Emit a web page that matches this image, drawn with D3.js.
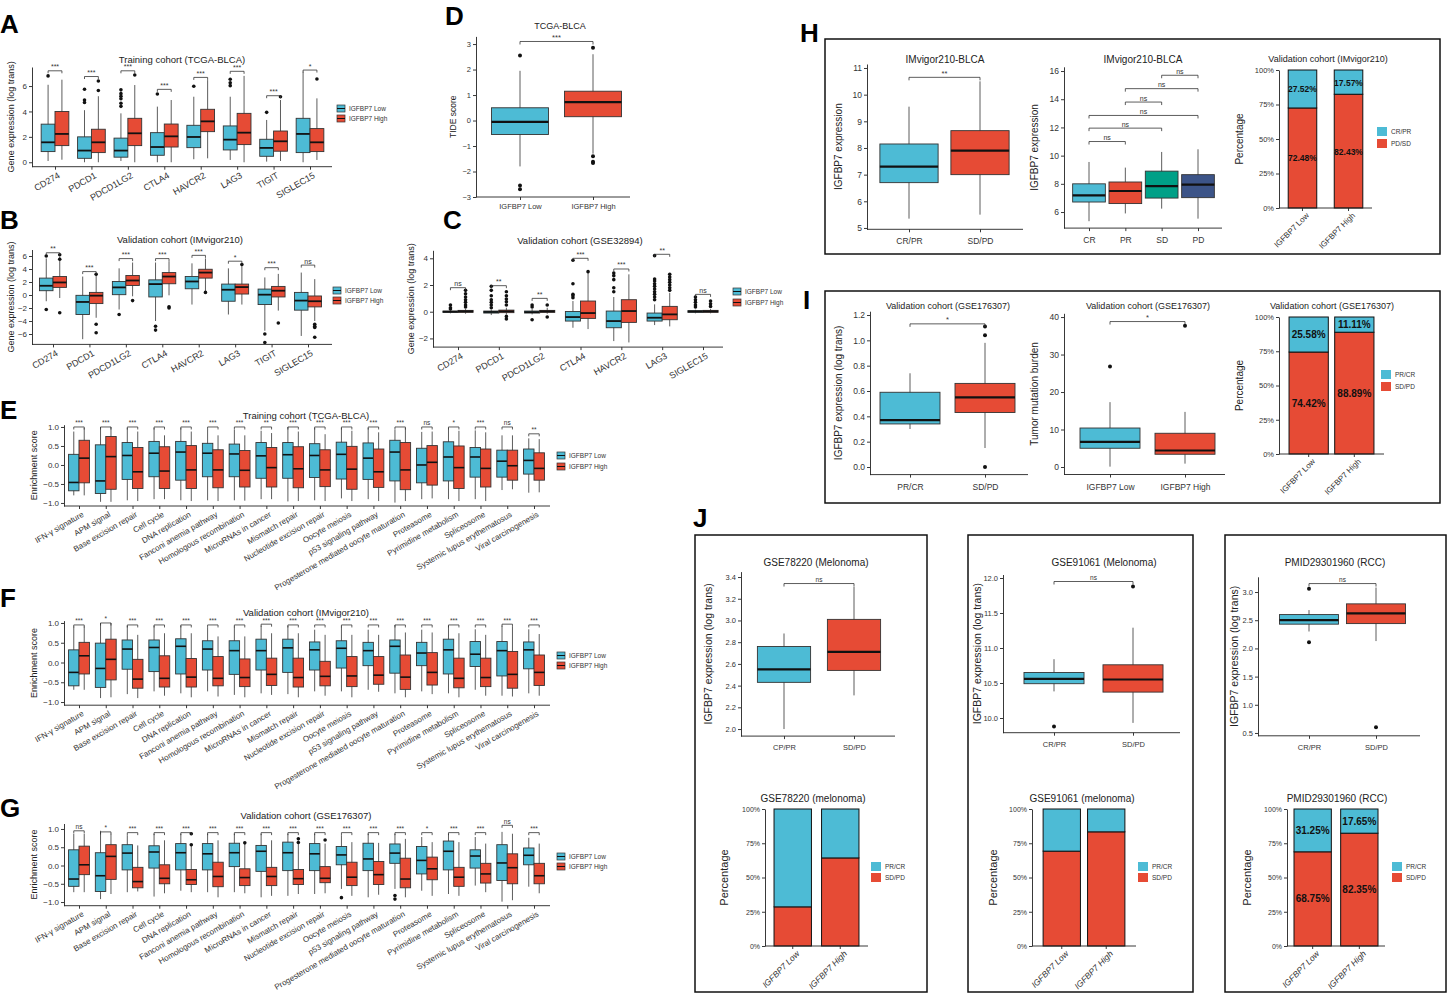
<!DOCTYPE html>
<html><head><meta charset="utf-8">
<script src="https://cdn.jsdelivr.net/npm/d3@7"></script>
<style>body{margin:0;background:#fff}</style>
</head><body>
<script>
// ================= DATA =================
const groupLabels = ["IGFBP7 Low", "IGFBP7 High"];
const checkpointGenes = ["CD274","PDCD1","PDCD1LG2","CTLA4","HAVCR2","LAG3","TIGIT","SIGLEC15"];
const gse32894Genes = ["CD274","PDCD1","PDCD1LG2","CTLA4","HAVCR2","LAG3","SIGLEC15"];
const pathways = ["IFN-γ signature","APM signal","Base excision repair","Cell cycle","DNA replication","Fanconi anemia pathway","Homologous recombination","MicroRNAs in cancer","Mismatch repair","Nucleotide excision repair","Oocyte meiosis","p53 signaling pathway","Progesterone mediated oocyte maturation","Proteasome","Pyrimidine metabolism","Spliceosome","Systemic lupus erythematosus","Viral carcinogenesis"];
// box stats: [lower whisker, Q1, median, Q3, upper whisker]
// A: TCGA-BLCA checkpoint genes
const tcgaLow = [[0.1,0.84,1.57,3.0,6.1],[0,0.31,0.92,2.0,4.1],[0.1,0.4,0.92,1.9,3.85],[0,0.55,1.2,2.33,4.38],[0.24,1.15,1.99,2.91,5.16],[0.18,0.97,1.78,2.86,5.16],[0.05,0.47,1.13,1.81,3.33],[0,0.76,2.23,3.46,7.13]];
const tcgaLowOut = [[6.8],[5.75,4.9,4.7],[5.7,5.4,5.2,5.0,4.65,4.4],[5.37],[5.98],[6.53,6.26,6.03],[3.93],[]];
const tcgaHigh = [[0.2,1.31,2.23,4.0,6.5],[0,0.76,1.57,2.6,5.2],[0,1.31,2.28,3.46,6.08],[0,1.2,2.04,3.01,4.9],[0.31,2.41,3.22,4.17,6.47],[0,1.39,2.33,3.85,6.8],[0.1,0.87,1.65,2.46,4.9],[0.18,0.84,1.57,2.65,5.03]];
const tcgaHighOut = [[],[6.4,5.65],[6.87],[],[],[],[5.16],[6.55]];
const tcgaSig = ["***","***","***","***","***","***","***","*"];
const tcgaSigY = [7.2,6.75,7.2,5.74,6.68,7.16,5.24,7.26];
// B: IMvigor210 checkpoint genes
const imvLow = [[-0.96,0.66,1.42,2.6,5.63],[-6.8,-3.0,-1.07,-0.05,2.84],[-2.23,0.05,1.17,2.08,4.1],[-4.0,-0.3,1.68,2.33,5.0],[-1.47,0.96,2.08,2.84,4.87],[-3.0,-0.96,0.81,1.68,4.1],[-5.5,-1.47,0.05,0.91,2.7],[-6.3,-2.33,-0.86,0.4,3.45]];
const imvLowOut = [[6.0,-2.23],[],[-3.0],[-4.8,-5.4],[],[],[-6.0,-7.3],[]];
const imvHigh = [[-0.46,1.17,1.93,2.84,5.9],[-3.5,-1.32,-0.1,0.4,3.1],[-0.2,1.47,2.23,3.0,5.0],[-0.05,1.73,2.84,3.45,5.2],[0.56,2.6,3.45,3.96,5.63],[-1.47,0.15,1.22,1.68,4.5],[-2.4,-0.3,0.66,1.32,3.25],[-4.0,-1.83,-0.96,-0.15,2.44]];
const imvHighOut = [[6.2,5.5,-2.74],[3.2,-4.5,-5.8],[-0.86],[-1.8,-2.0],[0.4],[4.7],[-4.3],[-4.5,-4.8,-5.0,-6.5]];
const imvSig = ["**","***","***","***","***","*","***","ns"];
const imvSigY = [6.5,3.6,5.6,5.6,6.1,5.2,4.2,4.6];
// C: GSE32894 checkpoint genes
const gseLow = [[-0.12,-0.05,0,0.05,0.1],[-0.25,-0.1,-0.02,0.05,0.15],[-0.2,-0.1,-0.03,0.05,0.2],[-1.2,-0.7,-0.4,0.02,0.8],[-2.2,-1.2,-0.7,0.05,1.1],[-1.0,-0.7,-0.45,-0.1,0.55],[-0.12,-0.05,0.02,0.08,0.15]];
const gseLowOut = [[0.5,0.3,0.2],[1.9,1.6,1.2,0.9,0.7,0.5,0.3],[0.5,0.35,-0.6],[3.85,2.1,1.3,1.2,1.05],[2.9,2.7,2.4,1.8,1.5],[4.2,2.45,2.3,2.1,1.9,1.7,1.5,1.3,1.1,0.9],[1.1,0.9,0.7,0.5,0.35]];
const gseHigh = [[-0.15,-0.05,0.03,0.1,0.2],[-0.2,-0.07,0.03,0.12,0.3],[-0.15,-0.05,0.03,0.1,0.3],[-1.3,-0.5,-0.1,0.8,2.95],[-2.3,-0.8,0.05,0.9,2.8],[-1.1,-0.6,-0.2,0.4,1.4],[-0.12,-0.05,0.03,0.1,0.2]];
const gseHighOut = [[1.6,1.35,1.1,0.9,0.7,0.5,0.35],[1.5,1.2,0.95,0.75,0.5,-0.35,-0.55],[0.5,-0.4],[3.0],[],[2.8,2.6,2.4,2.2,2.0,1.8,1.6],[0.8,0.6,0.4]];
const gseSig = ["ns","**","**","***","***","**","ns"];
const gseSigY = [1.8,1.95,1.0,4.0,3.2,4.3,1.3];
// D: TIDE
const tideStats = [[-1.8,-0.55,-0.05,0.5,1.95],[-1.3,0.15,0.72,1.15,2.6]];
const tideOut = [[2.55,-2.55,-2.7],[2.85,-1.4,-1.62,-1.67]];
// E: enrichment TCGA
const enrTcgaLow = [[-0.8,-0.68,-0.46,0.28,0.88],[-0.97,-0.75,-0.42,0.53,1.0],[-0.93,-0.38,0.25,0.59,0.97],[-0.9,-0.31,0.31,0.62,0.97],[-0.93,-0.4,0.34,0.62,0.97],[-0.93,-0.31,0.31,0.57,0.94],[-0.93,-0.31,0.29,0.55,0.93],[-0.9,-0.35,0.24,0.59,0.9],[-0.96,-0.35,0.27,0.59,1.0],[-0.93,-0.33,0.25,0.56,0.97],[-0.88,-0.37,0.28,0.6,0.97],[-0.9,-0.38,0.18,0.58,0.97],[-0.99,-0.42,0.34,0.65,0.93],[-0.9,-0.47,0.0,0.44,0.87],[-0.9,-0.42,0.21,0.61,0.97],[-0.9,-0.32,0.21,0.46,0.91],[-0.66,-0.32,0.1,0.39,0.78],[-0.73,-0.24,0.12,0.42,0.7]];
const enrTcgaHigh = [[-0.8,-0.47,0.18,0.65,0.97],[-0.97,-0.64,0.22,0.75,1.0],[-0.95,-0.62,-0.18,0.46,0.88],[-0.9,-0.62,-0.16,0.48,0.78],[-0.95,-0.62,-0.13,0.51,0.88],[-0.95,-0.6,-0.13,0.4,0.78],[-0.94,-0.58,-0.14,0.38,0.78],[-0.9,-0.58,-0.07,0.46,0.84],[-0.95,-0.6,-0.1,0.48,0.88],[-0.95,-0.57,-0.13,0.4,0.81],[-0.95,-0.64,-0.11,0.49,0.9],[-0.95,-0.59,-0.18,0.42,0.86],[-0.95,-0.65,-0.13,0.59,0.97],[-0.88,-0.53,0.07,0.51,0.88],[-0.95,-0.62,-0.07,0.5,0.9],[-0.95,-0.58,-0.09,0.42,0.86],[-0.64,-0.4,-0.02,0.39,0.78],[-0.72,-0.4,-0.09,0.32,0.68]];
const enrTcgaSig = ["***","***","***","***","***","***","***","**","***","***","***","***","***","ns","*","***","ns","**"];
const enrTcgaSigY = [1.0,1.0,1.0,1.0,1.0,1.0,1.0,1.0,1.0,1.0,1.0,1.0,1.0,1.0,1.0,1.0,1.0,0.82];
// F: enrichment IMvigor210
const enrImvLow = [[-0.69,-0.59,-0.25,0.32,0.91],[-0.9,-0.63,-0.15,0.49,1.0],[-0.8,-0.17,0.34,0.57,0.93],[-0.73,-0.23,0.38,0.57,0.93],[-0.78,-0.29,0.41,0.6,0.93],[-0.73,-0.19,0.34,0.55,0.89],[-0.82,-0.3,0.3,0.55,0.91],[-0.78,-0.19,0.3,0.59,0.93],[-0.8,-0.25,0.37,0.59,0.93],[-0.73,-0.19,0.32,0.52,0.83],[-0.73,-0.14,0.36,0.55,0.91],[-0.69,-0.08,0.3,0.51,0.83],[-0.78,-0.27,0.41,0.57,0.95],[-0.73,-0.08,0.24,0.51,0.83],[-0.78,-0.29,0.32,0.59,0.93],[-0.69,-0.1,0.21,0.53,0.84],[-0.84,-0.34,0.3,0.53,0.93],[-0.78,-0.16,0.32,0.52,0.84]];
const enrImvHigh = [[-0.69,-0.29,0.17,0.51,0.91],[-0.88,-0.44,0.08,0.59,1.0],[-0.9,-0.65,-0.42,0.08,0.7],[-0.84,-0.62,-0.4,0.17,0.74],[-0.88,-0.62,-0.37,0.1,0.74],[-0.86,-0.59,-0.4,0.15,0.66],[-0.88,-0.61,-0.38,0.09,0.66],[-0.82,-0.58,-0.3,0.11,0.74],[-0.88,-0.62,-0.38,0.11,0.74],[-0.84,-0.59,-0.35,0.03,0.7],[-0.88,-0.61,-0.34,0.15,0.7],[-0.74,-0.55,-0.32,0.15,0.7],[-0.88,-0.68,-0.37,0.19,0.76],[-0.8,-0.57,-0.25,0.25,0.76],[-0.88,-0.64,-0.4,0.11,0.74],[-0.84,-0.61,-0.38,0.11,0.7],[-0.86,-0.65,-0.3,0.28,0.91],[-0.84,-0.58,-0.25,0.19,0.72]];
const enrImvSig = ["***","*","***","***","***","***","***","***","***","***","***","***","***","***","***","***","***","***"];
const enrImvSigY = [0.95,1.0,0.95,0.95,0.95,0.95,0.95,0.97,0.95,0.95,0.95,0.95,0.95,0.95,0.95,0.95,0.97,0.95];
// G: enrichment GSE176307
const enrGseLow = [[-0.73,-0.57,-0.37,0.43,0.87],[-0.92,-0.71,-0.28,0.35,0.95],[-0.73,-0.12,0.34,0.57,0.83],[-0.85,-0.07,0.37,0.54,0.87],[-0.69,-0.12,0.35,0.6,0.87],[-0.73,-0.12,0.32,0.6,0.87],[-0.73,-0.03,0.35,0.61,0.87],[-0.87,-0.16,0.39,0.55,0.87],[-0.83,-0.14,0.35,0.64,0.87],[-0.78,-0.14,0.32,0.6,0.87],[-0.64,0.02,0.29,0.52,0.83],[-0.87,-0.14,0.18,0.61,0.87],[-0.64,0.06,0.34,0.59,0.87],[-0.69,-0.23,0.14,0.52,0.78],[-0.78,-0.12,0.39,0.67,0.87],[-0.55,-0.07,0.26,0.43,0.78],[-0.99,-0.41,0.07,0.57,0.92],[-0.58,0.02,0.28,0.48,0.76]];
const enrGseLowOut = [[],[],[],[],[],[],[],[],[],[],[-0.88],[],[-0.82,-0.92],[],[],[],[],[]];
const enrGseHigh = [[-0.73,-0.25,0.02,0.53,0.87],[-0.78,-0.38,0.25,0.57,0.87],[-0.71,-0.61,-0.44,-0.05,0.55],[-0.76,-0.5,-0.35,0.02,0.69],[-0.73,-0.52,-0.39,-0.11,0.55],[-0.87,-0.58,-0.3,0.09,0.69],[-0.76,-0.55,-0.33,-0.09,0.6],[-0.83,-0.55,-0.3,-0.05,0.69],[-0.78,-0.52,-0.36,-0.11,0.6],[-0.76,-0.47,-0.35,-0.03,0.6],[-0.83,-0.55,-0.32,0.09,0.64],[-0.8,-0.52,-0.25,0.11,0.62],[-0.87,-0.61,-0.37,0.2,0.73],[-0.83,-0.39,-0.09,0.23,0.64],[-0.83,-0.57,-0.32,-0.05,0.64],[-0.73,-0.48,-0.23,0.06,0.6],[-0.95,-0.5,-0.06,0.32,0.87],[-0.76,-0.5,-0.28,0.06,0.6]];
const enrGseHighOut = [[],[],[],[],[0.87,0.57],[],[0.62],[],[0.73,0.63],[0.7],[],[],[],[],[],[],[],[]];
const enrGseSig = ["ns","*","***","***","***","***","***","***","***","***","***","***","***","*","***","***","ns","***"];
const enrGseSigY = [0.95,0.92,0.9,0.9,0.9,0.9,0.9,0.9,0.9,0.9,0.9,0.9,0.9,0.9,0.9,0.9,1.1,0.9];
// H
const respCats = ["CR/PR","SD/PD"];
const respImvStats = [[5.35,6.7,7.3,8.15,9.55],[5.5,7.0,7.9,8.65,10.5]];
const recistCats = ["CR","PR","SD","PD"];
const recistStats = [[5.35,6.71,7.18,8.0,9.55],[5.9,6.6,7.49,8.13,9.15],[6.24,6.99,7.84,8.9,10.26],[5.53,7.02,7.94,8.65,10.45]];
const recistBrackets = [["CR","PR",11.0],["CR","SD",11.95],["CR","PD",12.85],["PR","SD",13.8],["PR","PD",14.75],["SD","PD",15.7]];
const imvRespPct = [27.52, 17.57];
const imvNonRespPct = [72.48, 82.43];
// I
const respCatsI = ["PR/CR","SD/PD"];
const gse176Stats = [[0.3,0.34,0.37,0.59,0.74],[0.15,0.43,0.55,0.66,0.98]];
const gse176Out = [[],[1.11,1.04,0.0]];
const tmbStats = [[0.1,5.0,6.7,10.4,17.3],[0.9,3.4,4.4,9.0,14.7]];
const tmbOut = [[26.8],[37.7]];
const gse176RespPct = [25.58, 11.11];
const gse176NonRespPct = [74.42, 88.89];
// J
const gse78Cats = ["CP/PR","SD/PD"];
const gse78Stats = [[2.0,2.43,2.55,2.76,2.88],[2.31,2.54,2.71,3.01,3.31]];
const gse91Cats = ["CR/PR","SD/PD"];
const gse91Stats = [[10.38,10.49,10.56,10.65,10.84],[9.93,10.37,10.55,10.76,11.29]];
const gse91Out = [[9.88],[11.88]];
const rccStats = [[2.3,2.43,2.5,2.6,2.68],[2.13,2.44,2.62,2.79,3.08]];
const rccOut = [[3.06,2.11],[0.6]];
const gse78NonRespPct = [28.57, 64.29];
const gse91NonRespPct = [69.23, 83.33];
const rccNonRespPct = [68.75, 82.35];

// ================= DRAWING =================
const FONT = '"Liberation Sans", Arial, Helvetica, sans-serif';
const NARROW = '"Liberation Sans Narrow","Arial Narrow","Liberation Sans",sans-serif';
const CY = "#4DBBD5", RD = "#E64B35", GN = "#00A087", NB = "#3C5488";
const svg = d3.select("body").append("svg").attr("width",1450).attr("height",995)
  .style("font-family",FONT);

function styleAxis(a, fs){
  a.attr("font-family",FONT).attr("font-size",fs);
  a.selectAll(".domain").attr("stroke","#222").attr("stroke-width",0.9);
  a.selectAll(".tick line").attr("stroke","#222").attr("stroke-width",0.9);
  a.selectAll(".tick text").attr("fill","#333");
}
function yAxis(g, y, x, ticks, fmt, fs){
  const a = g.append("g").attr("transform",`translate(${x},0)`)
    .call(d3.axisLeft(y).tickValues(ticks).tickFormat(fmt).tickSize(3).tickSizeOuter(0).tickPadding(2));
  styleAxis(a, fs); return a;
}
function xAxis(g, x, yb, x0, x1, fs, angle, pad){
  g.append("line").attr("x1",x0).attr("x2",x1).attr("y1",yb).attr("y2",yb).attr("stroke","#222").attr("stroke-width",0.9);
  const a = g.append("g").attr("transform",`translate(0,${yb})`)
    .call(d3.axisBottom(x).tickSize(3).tickPadding(pad || 3));
  a.select(".domain").remove();
  styleAxis(a, fs);
  if (angle){
    a.selectAll(".tick text").attr("y",0).attr("dy","0.71em").attr("text-anchor","end")
      .attr("transform",`translate(2,5) rotate(${-angle})`);
  }
  return a;
}
function txt(g, x, y, s, fs, opt){
  opt = opt || {};
  const t = g.append("text").attr("x",x).attr("y",y).text(s).attr("font-size",fs)
    .attr("text-anchor",opt.anchor || "middle").attr("fill",opt.fill || "#222");
  if (opt.bold) t.attr("font-weight","bold");
  if (opt.family) t.attr("font-family",opt.family);
  if (opt.rot) t.attr("transform",`rotate(${opt.rot},${x},${y})`);
  return t;
}
function ylab(g, x, yc, s, fs){ return txt(g, x, yc, s, fs, {rot:-90}); }
function drawBox(g, cx, bw, st, y, col, medW){
  const [lo,q1,md,q3,hi] = st;
  g.append("line").attr("x1",cx).attr("x2",cx).attr("y1",y(lo)).attr("y2",y(hi)).attr("stroke","#333").attr("stroke-width",0.8);
  g.append("rect").attr("x",cx-bw/2).attr("width",bw).attr("y",y(q3)).attr("height",Math.max(1,y(q1)-y(q3)))
    .attr("fill",col).attr("stroke","#333").attr("stroke-width",0.9);
  g.append("line").attr("x1",cx-bw/2).attr("x2",cx+bw/2).attr("y1",y(md)).attr("y2",y(md)).attr("stroke","#111").attr("stroke-width",medW||1.8);
}
function dots(g, cx, vals, y, r){
  (vals||[]).forEach(v => g.append("circle").attr("cx",cx).attr("cy",y(v)).attr("r",r||1.8).attr("fill","#111"));
}
function bracket(g, xa, xb, yv, label, fs, tick){
  tick = tick===undefined ? 3 : tick;
  g.append("path").attr("d",`M${xa},${yv+tick}V${yv}H${xb}V${yv+tick}`).attr("fill","none").attr("stroke","#333").attr("stroke-width",0.8);
  txt(g, (xa+xb)/2, yv-1.5, label, fs, {fill:"#333"});
}
function boxLegend(g, x, y, gap, fs){
  [CY, RD].forEach((c,i)=>{
    const yy = y + i*gap;
    g.append("rect").attr("x",x).attr("y",yy).attr("width",8).attr("height",7).attr("fill",c).attr("stroke","#333").attr("stroke-width",0.7);
    g.append("line").attr("x1",x).attr("x2",x+8).attr("y1",yy+3.5).attr("y2",yy+3.5).attr("stroke","#111").attr("stroke-width",1);
    txt(g, x+12, yy+6, groupLabels[i], fs, {anchor:"start", fill:"#333"});
  });
}

function groupedBox(o){
  const g = svg.append("g");
  const x = d3.scalePoint().domain(o.cats).range([o.c0, o.c1]);
  const y = d3.scaleLinear().domain(o.domain).range([o.yb, o.yt]);
  const bw = x.step()*o.bwFrac;
  const series = [{st:o.low,out:o.lowOut,col:CY,off:-bw/2},{st:o.high,out:o.highOut,col:RD,off:bw/2}];
  series.forEach(s => o.cats.forEach((c,i) => {
    drawBox(g, x(c)+s.off, bw, s.st[i], y, s.col, o.medW);
    dots(g, x(c)+s.off, s.out[i], y, o.r);
  }));
  o.cats.forEach((c,i) => bracket(g, x(c)-bw/2, x(c)+bw/2, y(o.sigY[i]), o.sig[i], o.sigFs || 7, 2.5));
  yAxis(g, y, o.x0, o.ticks, o.fmt, o.tickFs);
  xAxis(g, x, o.yb, o.x0, o.x1, o.catFs, o.angle);
  txt(g, o.tx, o.ty, o.title, o.titleFs || 9.5);
  ylab(g, o.ylx, (o.yb+o.yt)/2, o.ylab, o.ylabFs || 9);
  boxLegend(g, o.legX, o.legY, o.legGap, o.legFs || 6.5);
}

function simpleBox(o){
  const g = svg.append("g");
  const x = d3.scalePoint().domain(o.cats).range([o.c0, o.c1]);
  const y = d3.scaleLinear().domain(o.domain).range([o.yb, o.yt]);
  const bw = (o.c1-o.c0)/(o.cats.length-1)*o.bwFrac;
  o.cats.forEach((c,i) => {
    drawBox(g, x(c), bw, o.stats[i], y, o.colors[i], 2.2);
    dots(g, x(c), o.outs ? o.outs[i] : [], y, 2);
  });
  o.brackets.forEach(b => bracket(g, x(b[0]), x(b[1]), y(b[2]), b[3], o.sigFs || 7.5, 3));
  yAxis(g, y, o.x0, o.ticks, o.fmt, o.tickFs);
  xAxis(g, x, o.yb, o.x0, o.x1, o.catFs, 0, o.pad || 4);
  txt(g, o.tx, o.ty, o.title, o.titleFs || 9.5);
  ylab(g, o.ylx, (o.yb+o.yt)/2, o.ylab, o.ylabFs || 9.5);
}

function stackBar(o){
  const g = svg.append("g");
  const x = d3.scaleBand().domain(groupLabels).range([o.x0, o.x1]).paddingInner(o.pi).paddingOuter(o.po);
  const y = d3.scaleLinear().domain([0,100]).range([o.yb, o.yt]);
  groupLabels.forEach((grp,i) => {
    const segs = [{a:0, b:o.non[i], c:RD}, {a:o.non[i], b:100, c:CY}];
    segs.forEach(s => {
      g.append("rect").attr("x",x(grp)).attr("width",x.bandwidth()).attr("y",y(s.b)).attr("height",y(s.a)-y(s.b))
        .attr("fill",s.c).attr("stroke","#111").attr("stroke-width",1);
      if (o.labels){
        const v = s.b - s.a;
        txt(g, x(grp)+x.bandwidth()/2, y((s.a+s.b)/2)+3.5, v.toFixed(2)+"%", o.lfs || 10, {bold:true, family:NARROW, fill:"#111"});
      }
    });
  });
  yAxis(g, y, o.x0, [0,25,50,75,100], d => d+"%", o.tickFs || 7.5);
  const a = xAxis(g, x, o.yb, o.x0, o.x1, o.catFs || 8, 0);
  a.selectAll(".tick text").attr("y",0).attr("dy","0.71em").attr("text-anchor","end")
    .attr("transform","translate(3,4) rotate(-45)");
  if (o.italic) a.selectAll(".tick text").attr("font-style","italic");
  [CY, RD].forEach((c,i) => {
    const yy = o.legY + i*o.legGap;
    g.append("rect").attr("x",o.legX).attr("y",yy).attr("width",10).attr("height",9).attr("fill",c);
    txt(g, o.legX+14, yy+7, o.legend[i], o.legFs || 6.5, {anchor:"start", fill:"#333"});
  });
  txt(g, o.tx, o.ty, o.title, o.titleFs || 9);
  ylab(g, o.ylx, (o.yb+o.yt)/2, "Percentage", o.ylabFs || 10);
}

// panel letters
[["A",0,33],["B",0,229],["C",443,229],["D",445,25],["E",0,419],["F",0,607],["G",0,817],["H",800,42],["I",803,309],["J",693,527]]
  .forEach(d => txt(svg, d[1], d[2], d[0], 26, {anchor:"start", bold:true, fill:"#000"}));

// frames
[[825,39,615,215],[825,291,615,212],[695,535,232,457],[968,535,225,457],[1225,535,221,457]]
  .forEach(r => svg.append("rect").attr("x",r[0]).attr("y",r[1]).attr("width",r[2]).attr("height",r[3])
    .attr("fill","none").attr("stroke","#111").attr("stroke-width",1.5));

// A
groupedBox({cats:checkpointGenes, low:tcgaLow, high:tcgaHigh, lowOut:tcgaLowOut, highOut:tcgaHighOut, sig:tcgaSig, sigY:tcgaSigY,
  c0:55, c1:310, x0:32, x1:332, yb:166.7, yt:67, domain:[-0.35,7.5], ticks:[0,2,4,6], fmt:d3.format("d"),
  bwFrac:0.38, tickFs:8, catFs:9, angle:30, title:"Training cohort (TCGA-BLCA)", tx:182, ty:63,
  ylab:"Gene expression (log trans)", ylx:14, legX:337, legY:105, legGap:10});
// B
groupedBox({cats:checkpointGenes, low:imvLow, high:imvHigh, lowOut:imvLowOut, highOut:imvHighOut, sig:imvSig, sigY:imvSigY,
  c0:53, c1:308, x0:32, x1:332, yb:344.4, yt:249.5, domain:[-7.6,7.0], ticks:[-6,-4,-2,0,2,4,6], fmt:d3.format("d"),
  bwFrac:0.37, tickFs:8, catFs:9, angle:30, title:"Validation cohort (IMvigor210)", tx:180, ty:243,
  ylab:"Gene expression (log trans)", ylx:14, legX:333, legY:287, legGap:10});
// C
groupedBox({cats:gse32894Genes, low:gseLow, high:gseHigh, lowOut:gseLowOut, highOut:gseHighOut, sig:gseSig, sigY:gseSigY,
  c0:458, c1:703, x0:433, x1:723, yb:347.1, yt:250.3, domain:[-2.65,4.6], ticks:[-2,0,2,4], fmt:d3.format("d"),
  bwFrac:0.37, tickFs:8, catFs:9, angle:30, title:"Validation cohort (GSE32894)", tx:580, ty:244,
  ylab:"Gene expression (log trans)", ylx:414, legX:733, legY:288, legGap:11});
// D
simpleBox({cats:groupLabels, stats:tideStats, outs:tideOut, colors:[CY,RD], c0:520, c1:593, x0:476, x1:630,
  yb:197, yt:36.4, domain:[-3,3.3], ticks:[-3,-2,-1,0,1,2,3], fmt:d3.format("d"), bwFrac:0.78,
  brackets:[[groupLabels[0],groupLabels[1],3.1,"***"]], tickFs:7.5, catFs:7.5, title:"TCGA-BLCA", tx:560, ty:29, titleFs:9,
  ylab:"TIDE score", ylx:456, ylabFs:8.5});
// E
groupedBox({cats:pathways, low:enrTcgaLow, high:enrTcgaHigh, lowOut:pathways.map(()=>[]), highOut:pathways.map(()=>[]), sig:enrTcgaSig, sigY:enrTcgaSigY,
  c0:79, c1:534, x0:64, x1:550, yb:506, yt:424.7, domain:[-1.08,1.06], ticks:[-1,-0.5,0,0.5,1], fmt:d3.format(".1f"),
  bwFrac:0.39, tickFs:8, catFs:8, angle:30, title:"Training cohort (TCGA-BLCA)", tx:306, ty:419, sigFs:6.5, medW:1.6,
  ylab:"Enrichment score", ylx:37, legX:557, legY:452, legGap:11});
// F
groupedBox({cats:pathways, low:enrImvLow, high:enrImvHigh, lowOut:pathways.map(()=>[]), highOut:pathways.map(()=>[]), sig:enrImvSig, sigY:enrImvSigY,
  c0:79, c1:534, x0:64, x1:550, yb:705.2, yt:620.6, domain:[-1.08,1.06], ticks:[-1,-0.5,0,0.5,1], fmt:d3.format(".1f"),
  bwFrac:0.39, tickFs:8, catFs:8, angle:30, title:"Validation cohort (IMvigor210)", tx:306, ty:616, sigFs:6.5, medW:1.6,
  ylab:"Enrichment score", ylx:37, legX:557, legY:652, legGap:10});
// G
groupedBox({cats:pathways, low:enrGseLow, high:enrGseHigh, lowOut:enrGseLowOut, highOut:enrGseHighOut, sig:enrGseSig, sigY:enrGseSigY,
  c0:79, c1:534, x0:64, x1:550, yb:905.7, yt:823.5, domain:[-1.1,1.15], ticks:[-1,-0.5,0,0.5,1], fmt:d3.format(".1f"),
  bwFrac:0.39, tickFs:8, catFs:8, angle:30, title:"Validation cohort (GSE176307)", tx:306, ty:819, sigFs:6.5, medW:1.6,
  ylab:"Enrichment score", ylx:37, legX:557, legY:853, legGap:10});

// H
simpleBox({cats:respCats, stats:respImvStats, colors:[CY,RD], c0:909, c1:980, x0:867, x1:1023,
  yb:229.3, yt:64, domain:[4.95,11.15], ticks:[5,6,7,8,9,10,11], fmt:d3.format("d"), bwFrac:0.82,
  brackets:[[respCats[0],respCats[1],10.65,"**"]], tickFs:8.5, catFs:8.5, title:"IMvigor210-BLCA", tx:945, ty:63, titleFs:10,
  ylab:"IGFBP7 expression", ylx:842, ylabFs:10, pad:6});
simpleBox({cats:recistCats, stats:recistStats, colors:[CY,RD,GN,NB], c0:1089, c1:1198, x0:1064, x1:1222,
  yb:228.1, yt:66.8, domain:[4.86,16.3], ticks:[6,8,10,12,14,16], fmt:d3.format("d"), bwFrac:0.9,
  brackets:recistBrackets.map(b => [b[0],b[1],b[2],"ns"]), tickFs:8.5, catFs:8.5, title:"IMvigor210-BLCA", tx:1143, ty:63, titleFs:10,
  ylab:"IGFBP7 expression", ylx:1038, ylabFs:10, pad:6, sigFs:7});
stackBar({non:imvNonRespPct, x0:1279, x1:1372, pi:0.38, po:0.2, yb:208, yt:70, labels:true, lfs:8.5,
  legend:["CR/PR","PD/SD"], legX:1377, legY:127, legGap:12, title:"Validation cohort (IMvigor210)", tx:1328, ty:62,
  ylx:1243, catFs:8});

// I
simpleBox({cats:respCatsI, stats:gse176Stats, outs:gse176Out, colors:[CY,RD], c0:910, c1:985, x0:870, x1:1028,
  yb:474.6, yt:311.2, domain:[-0.06,1.23], ticks:[0,0.2,0.4,0.6,0.8,1.0,1.2], fmt:d3.format(".1f"), bwFrac:0.8,
  brackets:[[respCatsI[0],respCatsI[1],1.13,"*"]], tickFs:8.5, catFs:8.5, title:"Validation cohort (GSE176307)", tx:948, ty:309, titleFs:9,
  ylab:"IGFBP7 expression (log trans)", ylx:842, ylabFs:10, pad:6});
simpleBox({cats:groupLabels, stats:tmbStats, outs:tmbOut, colors:[CY,RD], c0:1110, c1:1185, x0:1064, x1:1225,
  yb:474.5, yt:313.3, domain:[-2,41], ticks:[0,10,20,30,40], fmt:d3.format("d"), bwFrac:0.8,
  brackets:[[groupLabels[0],groupLabels[1],38.8,"*"]], tickFs:8.5, catFs:8.5, title:"Validation cohort (GSE176307)", tx:1148, ty:309, titleFs:9,
  ylab:"Tumor mutation burden", ylx:1038, ylabFs:10, pad:6});
stackBar({non:gse176NonRespPct, x0:1279, x1:1384, pi:0.14, po:0.22, yb:454, yt:317, labels:true, lfs:10,
  legend:["PR/CR","SD/PD"], legX:1381, legY:370, legGap:12, title:"Validation cohort (GSE176307)", tx:1332, ty:309,
  ylx:1243, catFs:8});

// J top boxplots
simpleBox({cats:gse78Cats, stats:gse78Stats, colors:[CY,RD], c0:784, c1:854, x0:741, x1:895,
  yb:736.1, yt:571.6, domain:[1.935,3.45], ticks:[2.0,2.2,2.4,2.6,2.8,3.0,3.2,3.4], fmt:d3.format(".1f"), bwFrac:0.76,
  brackets:[[gse78Cats[0],gse78Cats[1],3.34,"ns"]], tickFs:7.5, catFs:7.5, title:"GSE78220 (Melonoma)", tx:816, ty:566, titleFs:10,
  ylab:"IGFBP7 expression (log trans)", ylx:712, ylabFs:10.5, pad:6, sigFs:6.5});
simpleBox({cats:gse91Cats, stats:gse91Stats, outs:gse91Out, colors:[CY,RD], c0:1054, c1:1133, x0:1003, x1:1180,
  yb:732.7, yt:574.5, domain:[9.79,12.05], ticks:[10,10.5,11,11.5,12], fmt:d3.format(".1f"), bwFrac:0.76,
  brackets:[[gse91Cats[0],gse91Cats[1],11.95,"ns"]], tickFs:7.5, catFs:7.5, title:"GSE91061 (Melonoma)", tx:1104, ty:566, titleFs:10,
  ylab:"IGFBP7 expression (log trans)", ylx:981, ylabFs:10.5, pad:6, sigFs:6.5});
simpleBox({cats:gse91Cats, stats:rccStats, outs:rccOut, colors:[CY,RD], c0:1309, c1:1376, x0:1258, x1:1420,
  yb:735.8, yt:576.8, domain:[0.45,3.27], ticks:[0.5,1.0,1.5,2.0,2.5,3.0], fmt:d3.format(".1f"), bwFrac:0.88,
  brackets:[[gse91Cats[0],gse91Cats[1],3.15,"ns"]], tickFs:7.5, catFs:7.5, title:"PMID29301960 (RCC)", tx:1335, ty:566, titleFs:10,
  ylab:"IGFBP7 expression (log trans)", ylx:1238, ylabFs:10.5, pad:6, sigFs:6.5});

// J bottom stacked bars
stackBar({non:gse78NonRespPct, x0:765, x1:868, pi:0.213, po:0.19, yb:946, yt:809, labels:false,
  legend:["PR/CR","SD/PD"], legX:871, legY:862, legGap:11, title:"GSE78220 (melonoma)", tx:813, ty:802, titleFs:10,
  ylx:728, catFs:8.5, italic:true, tickFs:7, ylabFs:11});
stackBar({non:gse91NonRespPct, x0:1032, x1:1136, pi:0.16, po:0.25, yb:946, yt:809, labels:false,
  legend:["PR/CR","SD/PD"], legX:1138, legY:862, legGap:11, title:"GSE91061 (melonoma)", tx:1082, ty:802, titleFs:10,
  ylx:997, catFs:8.5, italic:true, tickFs:7, ylabFs:11});
stackBar({non:rccNonRespPct, x0:1287, x1:1385, pi:0.2, po:0.15, yb:946, yt:809, labels:true, lfs:10,
  legend:["PR/CR","SD/PD"], legX:1392, legY:862, legGap:11, title:"PMID29301960 (RCC)", tx:1337, ty:802, titleFs:10,
  ylx:1251, catFs:8.5, italic:true, tickFs:7, ylabFs:11});
</script>
</body></html>
